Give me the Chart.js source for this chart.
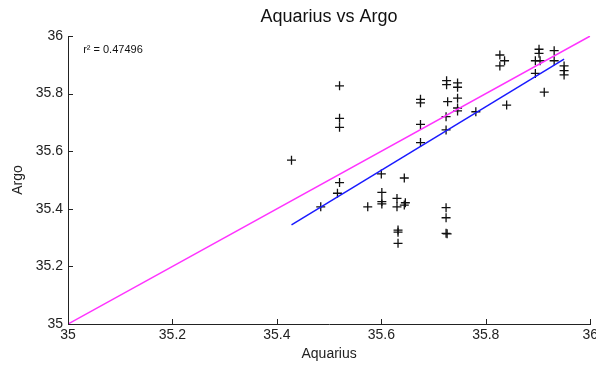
<!DOCTYPE html>
<html>
<head>
<meta charset="utf-8">
<script src="https://cdn.jsdelivr.net/npm/chart.js@4"></script>
<style>
  body { margin: 0; background: #fff; }
  #wrap { width: 596px; height: 367px; }
</style>
</head>
<body>
<div id="wrap"><canvas id="chart" width="596" height="367"></canvas></div>
<script>
// salinity pairs
const aquarius = [
  35.428, 35.520, 35.520, 35.520, 35.520, 35.516, 35.484, 35.600, 35.644, 35.574,
  35.601, 35.601, 35.601, 35.630, 35.630, 35.646, 35.644, 35.632, 35.632, 35.632,
  35.724, 35.724, 35.724, 35.726, 35.675, 35.675, 35.675, 35.675,
  35.725, 35.725, 35.746, 35.746, 35.727, 35.746, 35.746, 35.746, 35.724, 35.724,
  35.781, 35.840, 35.827, 35.836, 35.827, 35.902, 35.902, 35.895, 35.904,
  35.931, 35.931, 35.895, 35.912, 35.950, 35.950, 35.950
];
const argo = [
  35.569, 35.827, 35.714, 35.683, 35.491, 35.454, 35.407, 35.521, 35.507, 35.407,
  35.457, 35.425, 35.417, 35.436, 35.407, 35.421, 35.413, 35.326, 35.319, 35.280,
  35.404, 35.369, 35.315, 35.313, 35.780, 35.768, 35.693, 35.630,
  35.845, 35.831, 35.837, 35.822, 35.772, 35.784, 35.750, 35.740, 35.720, 35.674,
  35.737, 35.760, 35.934, 35.914, 35.896, 35.954, 35.940, 35.914, 35.914,
  35.949, 35.914, 35.870, 35.805, 35.896, 35.880, 35.865
];

// least squares fit (blue) and 1:1 line (magenta)
const fitX = [35.428, 35.950];
const fitY = [35.344, 35.920];
const oneX = [35, 36];
const oneY = [35, 36];

const tickValues = [35, 35.2, 35.4, 35.6, 35.8, 36];
const r2Text = 'r\u00b2 = 0.47496';
const r2Pos = [35.029, 35.951];

const font = "Arial, 'Liberation Sans', sans-serif";

function pairs(xs, ys) {
  return xs.map((x, i) => ({ x: x, y: ys[i] }));
}

// matlab style: ticks pointing into the plot, plus the r^2 note
const extras = {
  id: 'extras',
  afterDatasetsDraw(chart) {
    const ctx = chart.ctx;
    const xs = chart.scales.x, ys = chart.scales.y;
    const area = chart.chartArea;
    ctx.save();
    ctx.strokeStyle = '#222';
    ctx.lineWidth = 1;
    ctx.beginPath();
    tickValues.forEach(v => {
      const px = Math.round(xs.getPixelForValue(v)) + 0.5;
      ctx.moveTo(px, area.bottom);
      ctx.lineTo(px, area.bottom - 5);
      const py = Math.round(ys.getPixelForValue(v)) + 0.5;
      ctx.moveTo(area.left, py);
      ctx.lineTo(area.left + 5, py);
    });
    ctx.stroke();
    ctx.fillStyle = '#111';
    ctx.font = '11px ' + font;
    ctx.textBaseline = 'middle';
    ctx.fillText(r2Text, xs.getPixelForValue(r2Pos[0]), ys.getPixelForValue(r2Pos[1]));
    ctx.restore();
  }
};

new Chart(document.getElementById('chart'), {
  type: 'scatter',
  data: {
    datasets: [
      {
        label: '1:1',
        data: pairs(oneX, oneY),
        showLine: true,
        borderColor: '#ff33ff',
        borderWidth: 1.5,
        pointRadius: 0
      },
      {
        label: 'fit',
        data: pairs(fitX, fitY),
        showLine: true,
        borderColor: '#1a1aff',
        borderWidth: 1.5,
        pointRadius: 0
      },
      {
        label: 'Aquarius vs Argo',
        data: pairs(aquarius, argo),
        pointStyle: 'cross',
        pointRadius: 4.5,
        borderColor: '#111',
        borderWidth: 1.3
      }
    ]
  },
  options: {
    responsive: false,
    animation: false,
    layout: { padding: { left: 0, right: 5, top: 0, bottom: 0 } },
    plugins: {
      legend: { display: false },
      tooltip: { enabled: false },
      title: {
        display: true,
        text: 'Aquarius vs Argo',
        fullSize: false,
        color: '#111',
        font: { family: font, size: 18, weight: 'normal' },
        padding: { top: 6, bottom: 8.4 }
      }
    },
    scales: {
      x: {
        type: 'linear',
        min: 35, max: 36,
        grid: { display: false, drawTicks: false },
        border: { display: true, color: '#222', width: 1 },
        ticks: {
          stepSize: 0.2,
          padding: 3,
          color: '#222',
          maxRotation: 0,
          font: { family: font, size: 14 },
          callback: v => Math.round(v * 10) / 10
        },
        title: {
          display: true,
          text: 'Aquarius',
          color: '#222',
          font: { family: font, size: 14 },
          padding: { top: 0, bottom: 4 }
        },
        afterFit(scale) {
          scale.height = 43;
          scale.paddingLeft = 0;
          scale.paddingRight = 0;
        }
      },
      y: {
        type: 'linear',
        min: 35, max: 36,
        grid: { display: false, drawTicks: false },
        border: { display: true, color: '#222', width: 1 },
        ticks: {
          stepSize: 0.2,
          padding: 5,
          color: '#222',
          font: { family: font, size: 14 },
          callback: v => Math.round(v * 10) / 10
        },
        title: {
          display: true,
          text: 'Argo',
          color: '#222',
          font: { family: font, size: 14 },
          padding: { top: 10, bottom: 0 }
        },
        afterFit(scale) {
          scale.width = 68;
          scale.paddingTop = 0;
          scale.paddingBottom = 0;
        }
      }
    }
  },
  plugins: [extras]
});
</script>
</body>
</html>
